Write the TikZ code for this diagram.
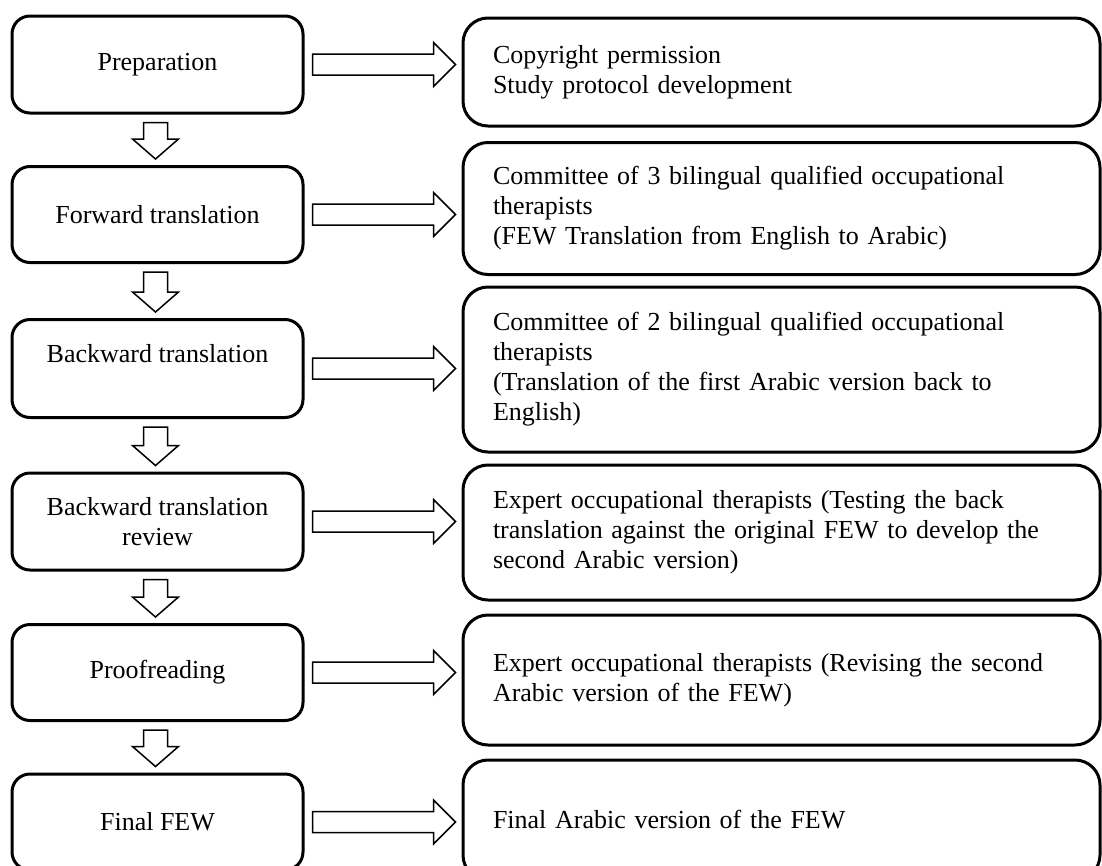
\documentclass[tikz,border=0pt]{standalone}
\usepackage{fontspec}
\setmainfont{Liberation Serif}
\usetikzlibrary{calc}

\tikzset{
  stage/.style={draw, line width=3pt, rounded corners=18pt,
    minimum width=291pt, align=center, inner sep=0pt,
    font=\fontsize{26pt}{30pt}\selectfont},
  detail/.style={draw, line width=3pt, rounded corners=25pt,
    minimum width=637pt, text width=577pt, inner xsep=30pt, inner ysep=0pt,
    align=left, font=\fontsize{26pt}{30pt}\selectfont},
  blockarrow/.style={draw, line width=1.5pt, fill=white, line join=miter}
}

\begin{document}
\begin{tikzpicture}[x=1pt, y=1pt]
  \clip (0,0) rectangle (1102,-865);

  % stages on the left
  \node[stage, minimum height=97pt] (prep)   at (157.5,-64.5) {Preparation};
  \node[stage, minimum height=96pt] (fwd)    at (157.5,-214.5) {Forward translation};
  \node[stage, minimum height=98pt] (bwd)    at (157.5,-368.5) {Backward translation\\ \mbox{}};
  \node[stage, minimum height=97pt] (review) at (157.5,-521.5) {Backward translation\\review};
  \node[stage, minimum height=96pt] (proof)  at (157.5,-672.5) {Proofreading};
  \node[stage, minimum height=96pt] (final)  at (157.5,-822)  {Final FEW};

  % what happens in each stage
  \node[detail, minimum height=108pt] (prep_d) at (781.5,-72)
    {Copyright permission\\Study protocol development};
  \node[detail, minimum height=132pt] (fwd_d) at (781.5,-208.5)
    {Committee of 3 bilingual qualified occupational\\therapists\\(FEW Translation from English to Arabic)};
  \node[detail, minimum height=165pt] (bwd_d) at (781.5,-369.5)
    {Committee of 2 bilingual qualified occupational\\therapists\\(Translation of the first Arabic version back to\\English)};
  \node[detail, minimum height=135pt] (review_d) at (781.5,-532.5)
    {Expert occupational therapists (Testing the back\\translation against the original FEW to develop the\\second Arabic version)};
  \node[detail, minimum height=130pt] (proof_d) at (781.5,-680)
    {Expert occupational therapists (Revising the second\\Arabic version of the FEW)};
  \node[detail, minimum height=120pt] (final_d) at (781.5,-820)
    {Final Arabic version of the FEW};

  % hollow arrows to the right
  \foreach \a/\b in {prep/prep_d, fwd/fwd_d, bwd/bwd_d, review/review_d, proof/proof_d, final/final_d}
    \draw[blockarrow] ($(\a.east)+(8,10.5)$) -- ($(\b.west |- \a.east)+(-28,10.5)$)
      -- ($(\b.west |- \a.east)+(-28,22)$) -- ($(\b.west |- \a.east)+(-6,0)$)
      -- ($(\b.west |- \a.east)+(-28,-22)$) -- ($(\b.west |- \a.east)+(-28,-10.5)$)
      -- ($(\a.east)+(8,-10.5)$) -- cycle;

  % hollow arrows down
  \foreach \a/\b in {prep/fwd, fwd/bwd, bwd/review, review/proof, proof/final}
    \draw[blockarrow] ($(\a.south)+(-14,-8)$) -- ($(\b.north)+(-14,26)$)
      -- ($(\b.north)+(-25,26)$) -- ($(\b.north)+(-2,6)$)
      -- ($(\b.north)+(21,26)$) -- ($(\b.north)+(10,26)$)
      -- ($(\a.south)+(10,-8)$) -- cycle;
\end{tikzpicture}
\end{document}
